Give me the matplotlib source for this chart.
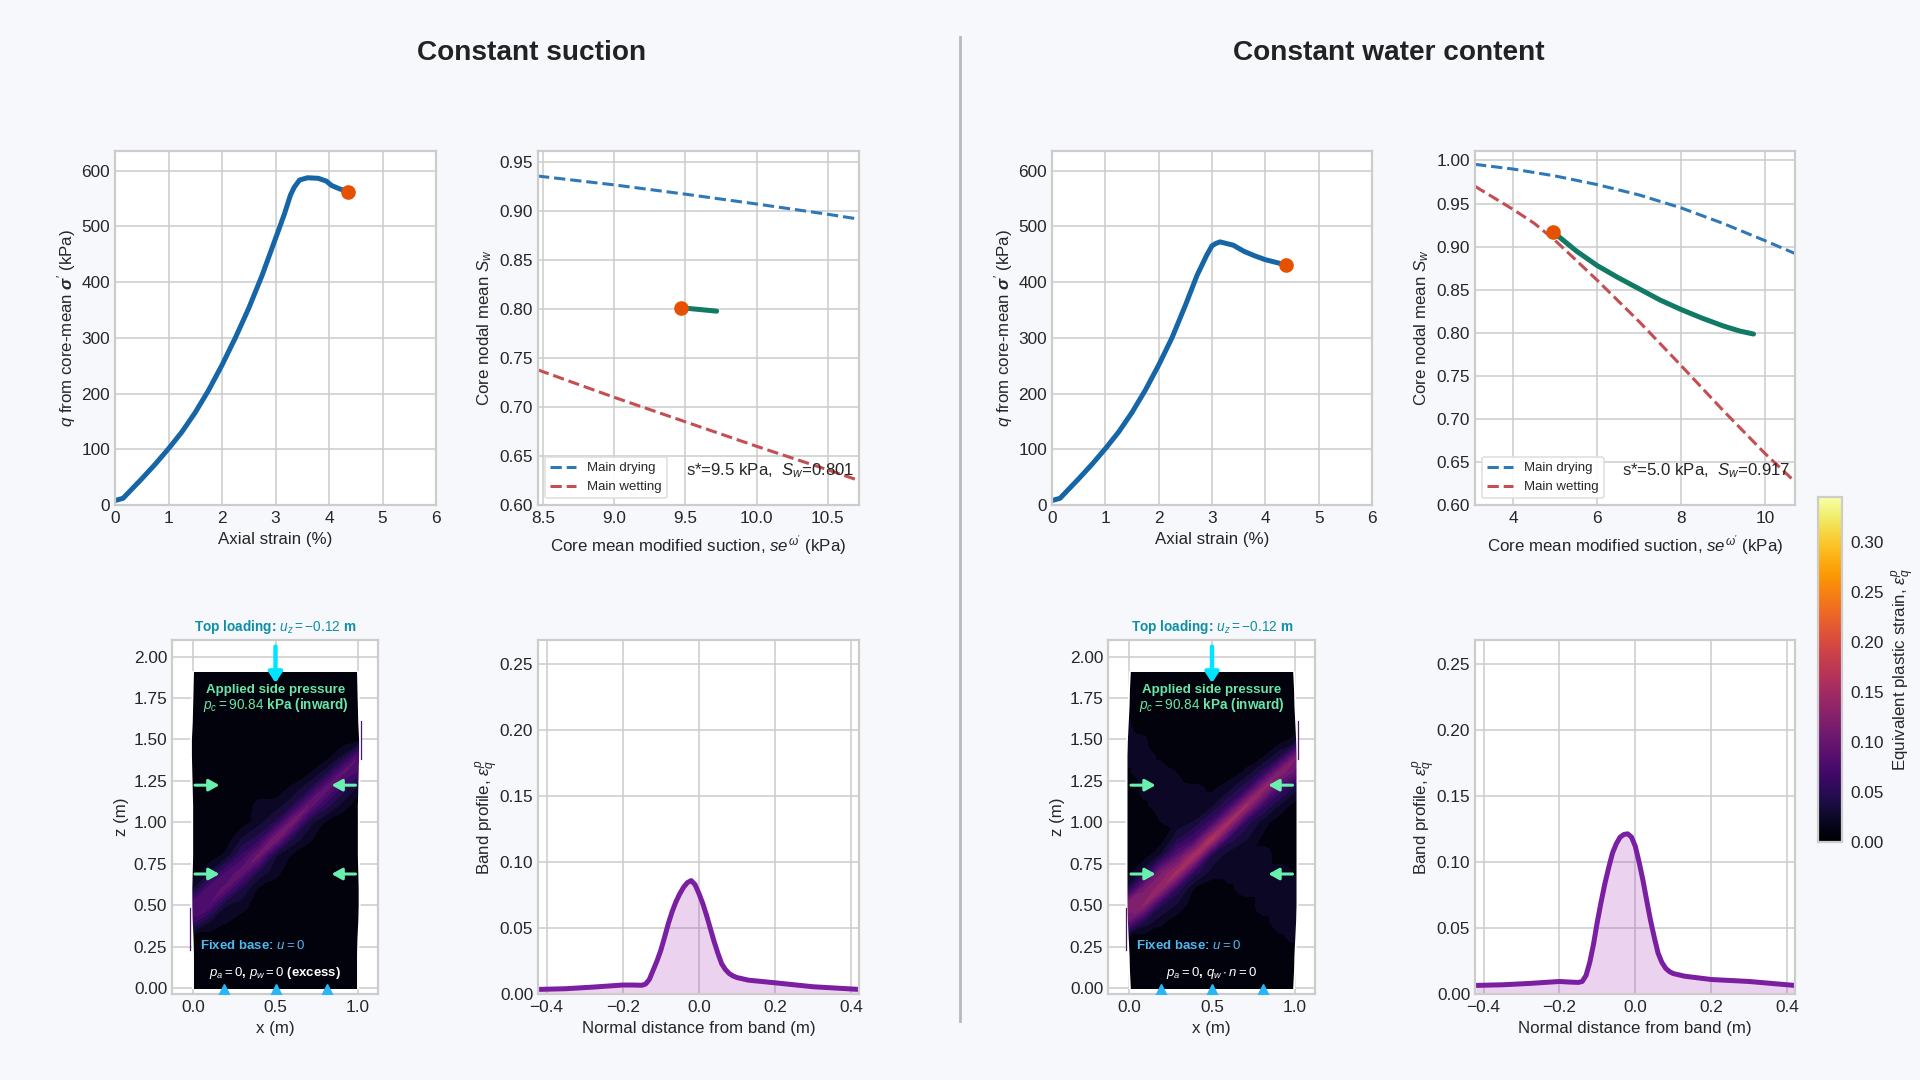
import numpy as np
import matplotlib
matplotlib.use("Agg")
import matplotlib.pyplot as plt
import matplotlib.tri as mtri
from matplotlib.cm import ScalarMappable
from matplotlib.colors import Normalize

plt.rcParams.update({
    "font.family": ["Liberation Sans", "DejaVu Sans"],
    "mathtext.fontset": "custom",
    "mathtext.rm": "Liberation Sans",
    "mathtext.it": "Liberation Sans:italic",
    "mathtext.bf": "Liberation Sans:bold",
    "mathtext.bfit": "Liberation Sans:italic:bold",
    "mathtext.fallback": "stixsans",
    "font.size": 12.4,
    "axes.labelsize": 12.2,
    "text.color": "#262626",
    "axes.labelcolor": "#262626",
    "xtick.color": "#262626",
    "ytick.color": "#262626",
    "axes.edgecolor": "#cccccc",
    "axes.linewidth": 1.6,
    "axes.grid": True,
    "grid.color": "#cccccc",
    "grid.linewidth": 1.1,
    "axes.axisbelow": True,
    "xtick.major.size": 0,
    "ytick.major.size": 0,
})

BG = "#f6f8fb"
W, H = 1920, 1080

# ---------- q vs axial strain ----------
strain_s = [0, .15, .25, .5, .75, 1, 1.25, 1.5, 1.75, 2, 2.25, 2.5, 2.75, 3, 3.08, 3.17, 3.28, 3.35, 3.45, 3.6, 3.8, 3.95, 4.05, 4.2, 4.36]
q_s = [8, 12, 22, 47, 73, 101, 131, 166, 206, 251, 300, 353, 412, 478, 499, 523, 556, 570, 583, 587, 586, 581, 573, 567, 562]
strain_w = [0, .15, .25, .5, .75, 1, 1.25, 1.5, 1.75, 2, 2.25, 2.5, 2.72, 2.9, 3, 3.07, 3.15, 3.4, 3.6, 3.8, 4, 4.25, 4.38]
q_w = [8, 12, 22, 47, 73, 101, 131, 166, 206, 251, 300, 358, 412, 448, 465, 469, 472, 466, 455, 447, 440, 434, 430]

# ---------- retention curves ----------
s_dry_s = [8.465, 9.0, 9.5, 10.0, 10.5, 10.72]
sw_dry_s = [.936, .927, .9175, .9075, .897, .892]
s_wet_s = [8.465, 9.0, 9.5, 10.0, 10.5, 10.72]
sw_wet_s = [.738, .71, .685, .66, .636, .625]
s_path_s = [9.47, 9.72]
sw_path_s = [.8015, .798]

s_dry_w = [3.085, 4, 5, 6, 7, 8, 9, 10, 10.72]
sw_dry_w = [.9955, .99, .982, .972, .96, .945, .927, .907, .892]
s_wet_w = [3.085, 4, 4.5, 5, 5.5, 6, 7, 8, 9, 10, 10.72]
sw_wet_w = [.97, .943, .927, .907, .884, .861, .813, .762, .71, .66, .627]
s_path_w = [4.95, 5.5, 6, 6.5, 7, 7.5, 8, 8.5, 9, 9.4, 9.73]
sw_path_w = [.917, .895, .878, .864, .851, .838, .827, .817, .808, .802, .7985]

# ---------- band profiles ----------
d_profile = [-.42, -.35, -.28, -.2, -.17, -.15, -.14, -.13, -.12, -.11, -.1, -.09, -.08, -.07, -.06, -.05, -.04, -.03, -.02, -.01, 0, .01, .02, .03, .04, .05, .06, .07, .08, .09, .1, .13, .2, .3, .42]
eps_s = [.0035, .004, .0052, .0068, .0068, .0066, .0075, .011, .018, .025, .033, .043, .0535, .0625, .07, .076, .081, .0845, .086, .083, .0765, .069, .06, .05, .04, .031, .023, .0185, .0155, .0137, .0125, .0105, .0085, .0055, .0035]
eps_w = [.0065, .007, .008, .0095, .009, .0088, .0095, .014, .024, .038, .055, .07, .084, .096, .107, .114, .119, .121, .1215, .119, .112, .1, .0865, .071, .056, .043, .031, .024, .0195, .017, .0155, .0135, .011, .0095, .0065]

# ---------- plastic strain fields, rows bottom to top, columns x = 0..1 ----------
x_cols = [0, .1, .2, .3, .4, .5, .6, .7, .8, .9, 1.0]
z_rows = [0, .1, .2, .3, .4, .5, .6, .7, .8, .9, 1.0, 1.1, 1.2, 1.3, 1.4, 1.5, 1.6, 1.7, 1.8, 1.906]
width_s = [1.0, 1.0, 1.0, 1.005, 1.015, 1.02, 1.02, 1.015, 1.01, 1.01, 1.01, 1.01, 1.015, 1.02, 1.025, 1.025, 1.015, 1.01, 1.005, 1.0]
width_w = [.99, 1.0, 1.005, 1.015, 1.025, 1.03, 1.03, 1.03, 1.03, 1.03, 1.03, 1.03, 1.03, 1.03, 1.03, 1.025, 1.015, 1.005, 1.0, .99]
b = .003
field_s = [
 [b, b, b, b, b, b, b, b, b, b, b],
 [b, b, b, b, b, b, b, b, b, b, b],
 [b, b, b, b, b, b, b, b, b, b, b],
 [.004, .004, b, b, b, b, b, b, b, b, b],
 [.065, .03, .016, .004, b, b, b, b, b, b, b],
 [.08, .085, .03, .022, .004, b, b, b, b, b, b],
 [.02, .075, .09, .04, .012, .004, b, b, b, b, b],
 [.004, .025, .07, .095, .04, .02, b, b, b, b, b],
 [b, .004, .018, .06, .105, .03, .012, b, b, b, b],
 [b, b, .004, .03, .05, .115, .04, .018, b, b, b],
 [b, b, b, .006, .022, .045, .11, .035, .012, b, b],
 [b, b, b, b, .02, .02, .04, .10, .05, .022, b],
 [b, b, b, b, .006, .006, .018, .04, .095, .05, .02],
 [b, b, b, b, b, b, b, .012, .035, .09, .065],
 [b, b, b, b, b, b, b, b, .006, .03, .085],
 [b, b, b, b, b, b, b, b, b, .004, .012],
 [b, b, b, b, b, b, b, b, b, b, b],
 [b, b, b, b, b, b, b, b, b, b, b],
 [b, b, b, b, b, b, b, b, b, b, b],
 [b, b, b, b, b, b, b, b, b, b, b],
]
c = .004
field_w = [
 [c, c, c, c, c, c, c, c, c, c, c],
 [c, c, c, c, c, c, c, c, c, c, c],
 [c, c, c, c, c, c, c, c, c, c, c],
 [.005, c, c, c, c, c, c, c, c, .012, .018],
 [.10, .04, .018, c, c, c, c, c, .011, .02, .02],
 [.125, .13, .045, .025, c, c, c, .008, .02, .02, .02],
 [.03, .11, .14, .05, .012, c, .012, .02, .02, .02, .02],
 [c, .035, .11, .15, .05, .022, .02, .02, .02, .02, .012],
 [c, c, .03, .09, .155, .04, .02, .02, .02, .008, c],
 [c, c, c, .04, .07, .16, .05, .03, .01, c, c],
 [c, c, .014, .02, .03, .065, .15, .05, .02, c, c],
 [c, .012, .02, .02, .02, .025, .06, .145, .06, .025, c],
 [c, .018, .02, .02, .018, .012, .025, .055, .135, .065, .03],
 [.012, .02, .02, .014, c, c, c, .018, .05, .125, .09],
 [.02, .02, .012, c, c, c, c, c, .012, .04, .115],
 [.02, .016, c, c, c, c, c, c, c, .006, .02],
 [.016, .006, c, c, c, c, c, c, c, c, c],
 [c, c, c, c, c, c, c, c, c, c, c],
 [c, c, c, c, c, c, c, c, c, c, c],
 [c, c, c, c, c, c, c, c, c, c, c],
]
sliver_left_z = [.23, .48]
sliver_right_z = [1.38, 1.61]
sliver_left_x = [-.02, -.02]
sliver_right_x = [1.02, 1.02]

support_x = [.19, .5, .81]
side_arrow_z = [1.224, .688]
levels = np.linspace(0, .345, 25)
norm = Normalize(0, .345)

fig = plt.figure(figsize=(W / 100, H / 100), dpi=100, facecolor=BG)


def make_ax(left, right, top, bottom):
    return fig.add_axes([left / W, 1 - bottom / H, (right - left) / W, (bottom - top) / H])


def q_panel(left, right, strain, q):
    ax = make_ax(left, right, 151, 505)
    ax.plot(strain, q, color="#1565a7", lw=3.6, solid_capstyle="round", solid_joinstyle="round")
    ax.plot(strain[-1], q[-1], "o", color="#e65100", ms=9.5, zorder=5)
    ax.set_xlim(0, 6)
    ax.set_ylim(0, 635)
    ax.set_xticks(range(7))
    ax.set_yticks(range(0, 601, 100))
    ax.tick_params(axis="x", pad=4.5)
    ax.set_xlabel("Axial strain (%)")
    ax.set_ylabel(r"$q$ from core-mean $\boldsymbol{\sigma}'$ (kPa)", labelpad=2.3)
    return ax


def sw_panel(left, right, sd, wd, sn, wn, sp, wp, xlim, ylim, xt, yt, note):
    ax = make_ax(left, right, 151, 505)
    ax.plot(sd, wd, "--", color="#2f78b7", lw=2.2, label="Main drying")
    ax.plot(sn, wn, "--", color="#c44e52", lw=2.2, label="Main wetting")
    ax.plot(sp, wp, color="#117a65", lw=3.6, solid_capstyle="round", solid_joinstyle="round")
    ax.plot(sp[0], wp[0], "o", color="#e65100", ms=9.5, zorder=5)
    ax.set_xlim(*xlim)
    ax.set_ylim(*ylim)
    ax.set_xticks(xt)
    ax.set_yticks(yt)
    ax.set_yticklabels([f"{v:.2f}" for v in yt])
    ax.tick_params(axis="x", pad=4.5)
    ax.set_xlabel(r"Core mean modified suction, $se^{\omega'}$ (kPa)", labelpad=5)
    ax.set_ylabel(r"Core nodal mean $S_w$")
    leg = ax.legend(loc="lower left", fontsize=9.5, frameon=True, framealpha=.9, edgecolor="#dddddd", facecolor="white", fancybox=True)
    leg.get_frame().set_linewidth(1.2)
    ax.text(.985, .097, note, transform=ax.transAxes, ha="right", va="center", fontsize=12.1)
    return ax


def band_panel(left, right, d, e):
    ax = make_ax(left, right, 640, 994)
    ax.fill_between(d, e, color="#9c27b0", alpha=.2, lw=0)
    ax.plot(d, e, color="#7b1fa2", lw=3.6, solid_joinstyle="round")
    ax.set_xlim(-.4226, .421)
    ax.set_ylim(0, .2685)
    ax.set_xticks([-.4, -.2, 0, .2, .4])
    ax.set_yticks([0, .05, .1, .15, .2, .25])
    ax.set_yticklabels([f"{v:.2f}" for v in [0, .05, .1, .15, .2, .25]])
    ax.tick_params(axis="x", pad=4.5)
    ax.set_xlabel("Normal distance from band (m)")
    ax.set_ylabel(r"Band profile, $\varepsilon_q^p$", labelpad=-.8)
    return ax


def mesh_panel(left, right, x0px, x1px, field, width, base_text):
    ax = make_ax(left, right, 640, 994)
    scale = x1px - x0px
    ax.set_xlim((left - x0px) / scale, (right - x0px) / scale)
    ax.set_ylim(-.036, 2.1)
    ax.set_xticks([0, .5, 1])
    ax.set_xticklabels(["0.0", "0.5", "1.0"])
    zt = [0, .25, .5, .75, 1, 1.25, 1.5, 1.75, 2]
    ax.set_yticks(zt)
    ax.set_yticklabels([f"{v:.2f}" for v in zt])
    ax.tick_params(axis="x", pad=4.5)
    ax.set_xlabel("x (m)")
    ax.set_ylabel("z (m)", labelpad=3.2)
    xc, zr, wd = np.array(x_cols), np.array(z_rows), np.array(width)
    XX = .5 + (xc[None, :] - .5) * wd[:, None]
    ZZ = np.repeat(zr[:, None], len(xc), axis=1)
    nr, nc = XX.shape
    tris = []
    for i in range(nr - 1):
        for j in range(nc - 1):
            n0 = i * nc + j
            n1, n2, n3 = n0 + 1, n0 + nc, n0 + nc + 1
            tris += [[n0, n1, n3], [n0, n3, n2]]
    tri = mtri.Triangulation(XX.ravel(), ZZ.ravel(), tris)
    ax.tricontourf(tri, np.array(field).ravel(), levels=levels, cmap="inferno", norm=norm, zorder=2)
    ax.plot(XX[:, 0], ZZ[:, 0], color="white", lw=1.4, zorder=3)
    ax.plot(XX[:, -1], ZZ[:, -1], color="white", lw=1.4, zorder=3)
    ax.plot(sliver_left_x, sliver_left_z, color="#4a1a6a", lw=.9, zorder=4)
    ax.plot(sliver_right_x, sliver_right_z, color="#4a1a6a", lw=.9, zorder=4)
    ax.annotate("", xy=(.5, 1.84), xytext=(.5, 2.06), zorder=6,
                arrowprops=dict(arrowstyle="-|>,head_width=.32,head_length=.5", color="#00e5ff", lw=3.2, shrinkA=0, shrinkB=0))
    for z in side_arrow_z:
        ax.annotate("", xy=(.16, z), xytext=(.012, z), zorder=6,
                    arrowprops=dict(arrowstyle="-|>,head_width=.28,head_length=.5", color="#69f0ae", lw=2.2, shrinkA=0, shrinkB=0))
        ax.annotate("", xy=(.84, z), xytext=(.985, z), zorder=6,
                    arrowprops=dict(arrowstyle="-|>,head_width=.28,head_length=.5", color="#69f0ae", lw=2.2, shrinkA=0, shrinkB=0))
    ax.plot(support_x, [-.012] * 3, "^", color="#29b6f6", ms=8, zorder=6, clip_on=True)
    ax.text(.5, 2.18, r"Top loading: $u_z=-0.12$ m", color="#0e8fa5", fontsize=9.8, weight="bold", ha="center", va="center", clip_on=False)
    ax.text(.5, 1.80, "Applied side pressure", color="#69e6a6", fontsize=9.6, weight="bold", ha="center", va="center", zorder=7)
    ax.text(.5, 1.71, r"$p_c=90.84$ kPa (inward)", color="#69e6a6", fontsize=9.8, weight="bold", ha="center", va="center", zorder=7)
    ax.text(.045, .257, r"Fixed base: $u=0$", color="#4fb8ee", fontsize=9.5, weight="bold", ha="left", va="center", zorder=7)
    ax.text(.5, .09, base_text, color="white", fontsize=9.5, weight="bold", ha="center", va="center", zorder=7)


q_panel(115, 436, strain_s, q_s)
q_panel(1052, 1372, strain_w, q_w)
yt2 = [.6, .65, .7, .75, .8, .85, .9, .95]
sw_panel(538, 859, s_dry_s, sw_dry_s, s_wet_s, sw_wet_s, s_path_s, sw_path_s, (8.465, 10.72), (.6, .9616),
         [8.5, 9, 9.5, 10, 10.5], yt2, r"s*=9.5 kPa,  $S_w$=0.801")
sw_panel(1475, 1795, s_dry_w, sw_dry_w, s_wet_w, sw_wet_w, s_path_w, sw_path_w, (3.085, 10.72), (.6, 1.011),
         [4, 6, 8, 10], yt2 + [1.0], r"s*=5.0 kPa,  $S_w$=0.917")
mesh_panel(172, 378, 193, 358, field_s, width_s, r"$p_a=0$, $p_w=0$ (excess)")
mesh_panel(1108, 1315, 1129, 1295, field_w, width_w, r"$p_a=0$, $q_w\cdot n=0$")
band_panel(538, 859, d_profile, eps_s)
band_panel(1475, 1795, d_profile, eps_w)

cax = make_ax(1818, 1842, 497, 842)
cb = fig.colorbar(ScalarMappable(norm=norm, cmap="inferno"), cax=cax)
cb.set_ticks([0, .05, .1, .15, .2, .25, .3])
cb.set_ticklabels(["0.00", "0.05", "0.10", "0.15", "0.20", "0.25", "0.30"])
cb.ax.tick_params(length=0, pad=6)
cb.outline.set_edgecolor("#cccccc")
cb.outline.set_linewidth(1.6)
cb.set_label(r"Equivalent plastic strain, $\varepsilon_q^p$", labelpad=4.5)
cax.grid(False)

fig.text(532 / W, 1 - 53 / H, "Constant suction", fontsize=20.2, weight="bold", ha="center", va="center", color="#222222")
fig.text(1388.5 / W, 1 - 53 / H, "Constant water content", fontsize=20.2, weight="bold", ha="center", va="center", color="#222222")
fig.add_artist(plt.Line2D([960 / W, 960 / W], [1 - 37 / H, 1 - 1021 / H], color="#b5b9bf", lw=2, transform=fig.transFigure))

fig.savefig("out.png", dpi=100, facecolor=BG)
